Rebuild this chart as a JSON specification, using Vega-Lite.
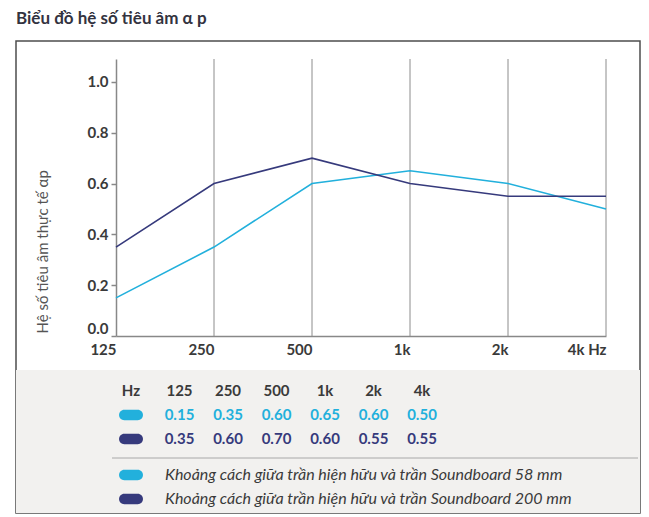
{
  "$schema": "https://vega.github.io/schema/vega-lite/v6.json",
  "autosize": "none",
  "width": 624,
  "height": 472,
  "padding": {"left": 16, "top": 41, "right": 9, "bottom": 4},
  "background": "white",
  "title": {"text": "Biểu đồ hệ số tiêu âm α p", "anchor": "start", "fontSize": 17, "fontWeight": "bold", "font": "Lato", "color": "#333340", "offset": 13},
  "config": {"view": {"stroke": "#4d4d4d", "strokeWidth": 1.5}, "font": "Lato"},
  "datasets": {
    "lines": [
      {"hz": "125", "series": "58 mm", "a": 0.15},
      {"hz": "250", "series": "58 mm", "a": 0.35},
      {"hz": "500", "series": "58 mm", "a": 0.60},
      {"hz": "1k", "series": "58 mm", "a": 0.65},
      {"hz": "2k", "series": "58 mm", "a": 0.60},
      {"hz": "4k", "series": "58 mm", "a": 0.50},
      {"hz": "125", "series": "200 mm", "a": 0.35},
      {"hz": "250", "series": "200 mm", "a": 0.60},
      {"hz": "500", "series": "200 mm", "a": 0.70},
      {"hz": "1k", "series": "200 mm", "a": 0.60},
      {"hz": "2k", "series": "200 mm", "a": 0.55},
      {"hz": "4k", "series": "200 mm", "a": 0.55}
    ],
    "grid": [{"hz": "250"}, {"hz": "500"}, {"hz": "1k"}, {"hz": "2k"}, {"hz": "4k"}],
    "header": [{"hz": "Hz"}, {"hz": "125"}, {"hz": "250"}, {"hz": "500"}, {"hz": "1k"}, {"hz": "2k"}, {"hz": "4k"}],
    "swatches": [{"series": "58 mm"}, {"series": "200 mm"}],
    "legend": [
      {"row": "legend 58 mm", "series": "58 mm", "label": "Khoảng cách giữa trần hiện hữu và trần Soundboard 58 mm"},
      {"row": "legend 200 mm", "series": "200 mm", "label": "Khoảng cách giữa trần hiện hữu và trần Soundboard 200 mm"}
    ]
  },
  "layer": [
    {
      "layer": [
        {
          "data": {"values": [{}]},
          "mark": {"type": "rect", "clip": true, "fill": "#f2f1ef"},
          "encoding": {
            "y": {"datum": -0.134, "type": "quantitative"},
            "y2": {"datum": -1}
          }
        },
        {
          "data": {"name": "grid"},
          "mark": {"type": "rule", "color": "#8c8c8c", "strokeWidth": 1},
          "encoding": {
            "x": {"field": "hz", "type": "nominal"},
            "y": {"datum": 0, "type": "quantitative"},
            "y2": {"datum": 1.09}
          }
        },
        {
          "data": {"name": "lines"},
          "mark": {"type": "line", "strokeWidth": 1.6},
          "encoding": {
            "x": {
              "field": "hz", "type": "nominal",
              "scale": {"type": "point", "domain": ["125", "250", "500", "1k", "2k", "4k"], "range": [100, 590], "padding": 0},
              "axis": {
                "title": null, "labelAngle": 0, "offset": -177, "domainColor": "#888888", "domainWidth": 1.5,
                "ticks": false, "labelPadding": 13, "labelFontSize": 15, "labelFontWeight": "bold", "labelColor": "#3a3a3a",
                "labelFont": "Lato", "grid": false, "labelDx": 2,
                "labelExpr": "datum.value == '4k' ? '4k Hz' : datum.value"
              }
            },
            "y": {
              "field": "a", "type": "quantitative",
              "scale": {"domain": [0, 1.09], "range": [295, 18], "nice": false, "zero": false},
              "axis": {
                "values": [0, 0.2, 0.4, 0.6, 0.8, 1.0], "format": ".1f", "offset": -100, "grid": false,
                "domainColor": "#888888", "domainWidth": 1.5, "tickColor": "#888888", "tickSize": 5, "tickWidth": 1.5,
                "labelFont": "Lato", "labelFontSize": 15, "labelFontWeight": "bold", "labelColor": "#3a3a3a", "labelPadding": 3,
                "labelFlush": true,
                "title": "Hệ số tiêu âm thực tế αp", "titleFont": "Lato", "titleFontSize": 15, "titleFontWeight": "normal",
                "titleColor": "#555555", "titleAnchor": "start", "titleX": -66, "titleY": 292
              }
            },
            "color": {
              "field": "series", "type": "nominal",
              "scale": {"domain": ["58 mm", "200 mm"], "range": ["#22b0dc", "#363a7c"]},
              "legend": null
            }
          }
        }
      ]
    },
    {
      "layer": [
        {
          "data": {"name": "header"},
          "mark": {"type": "text", "fontSize": 15, "fontWeight": "bold", "color": "#3a3a3a", "font": "Lato"},
          "encoding": {
            "x": {
              "field": "hz", "type": "nominal",
              "scale": {"type": "point", "domain": ["Hz", "125", "250", "500", "1k", "2k", "4k"], "range": [115, 406], "padding": 0},
              "axis": null
            },
            "y": {
              "datum": "head", "type": "nominal",
              "scale": {"type": "point", "domain": ["head", "58 mm", "200 mm", "legend 58 mm", "legend 200 mm"], "range": [350, 446], "padding": 0},
              "axis": null
            },
            "text": {"field": "hz"}
          }
        },
        {
          "data": {"name": "lines"},
          "mark": {"type": "text", "fontSize": 15, "fontWeight": "bold", "font": "Lato"},
          "encoding": {
            "x": {"field": "hz", "type": "nominal", "axis": null},
            "y": {"field": "series", "type": "nominal", "axis": null},
            "text": {"field": "a", "format": ".2f"},
            "color": {"field": "series", "type": "nominal", "legend": null}
          }
        },
        {
          "data": {"name": "swatches"},
          "mark": {"type": "point", "shape": "M -0.52 -0.4 L 0.52 -0.4 A 0.4 0.4 0 0 1 0.52 0.4 L -0.52 0.4 A 0.4 0.4 0 0 1 -0.52 -0.4 Z", "filled": true, "size": 676, "opacity": 1, "strokeWidth": 0},
          "encoding": {
            "x": {"datum": "Hz", "type": "nominal", "axis": null},
            "y": {"field": "series", "type": "nominal", "axis": null},
            "color": {"field": "series", "type": "nominal", "legend": null}
          }
        },
        {
          "data": {"values": [{}]},
          "mark": {"type": "rule", "color": "#a8a8a8", "strokeWidth": 1, "yOffset": -5, "xOffset": -19, "x2Offset": 216},
          "encoding": {
            "x": {"datum": "Hz", "type": "nominal", "axis": null},
            "x2": {"datum": "4k"},
            "y": {"datum": "legend 58 mm", "type": "nominal", "axis": null}
          }
        },
        {
          "data": {"name": "legend"},
          "mark": {"type": "point", "shape": "M -0.52 -0.4 L 0.52 -0.4 A 0.4 0.4 0 0 1 0.52 0.4 L -0.52 0.4 A 0.4 0.4 0 0 1 -0.52 -0.4 Z", "filled": true, "size": 676, "opacity": 1, "strokeWidth": 0, "yOffset": 12},
          "encoding": {
            "x": {"datum": "Hz", "type": "nominal", "axis": null},
            "y": {"field": "row", "type": "nominal", "axis": null},
            "color": {"field": "series", "type": "nominal", "legend": null}
          }
        },
        {
          "data": {"name": "legend"},
          "mark": {"type": "text", "align": "left", "dx": 34, "yOffset": 12, "fontSize": 16, "fontStyle": "italic", "color": "#3a3a3a", "font": "Lato"},
          "encoding": {
            "x": {"datum": "Hz", "type": "nominal", "axis": null},
            "y": {"field": "row", "type": "nominal", "axis": null},
            "text": {"field": "label"}
          }
        }
      ]
    }
  ],
  "resolve": {"scale": {"x": "independent", "y": "independent"}, "axis": {"x": "independent", "y": "independent"}}
}
